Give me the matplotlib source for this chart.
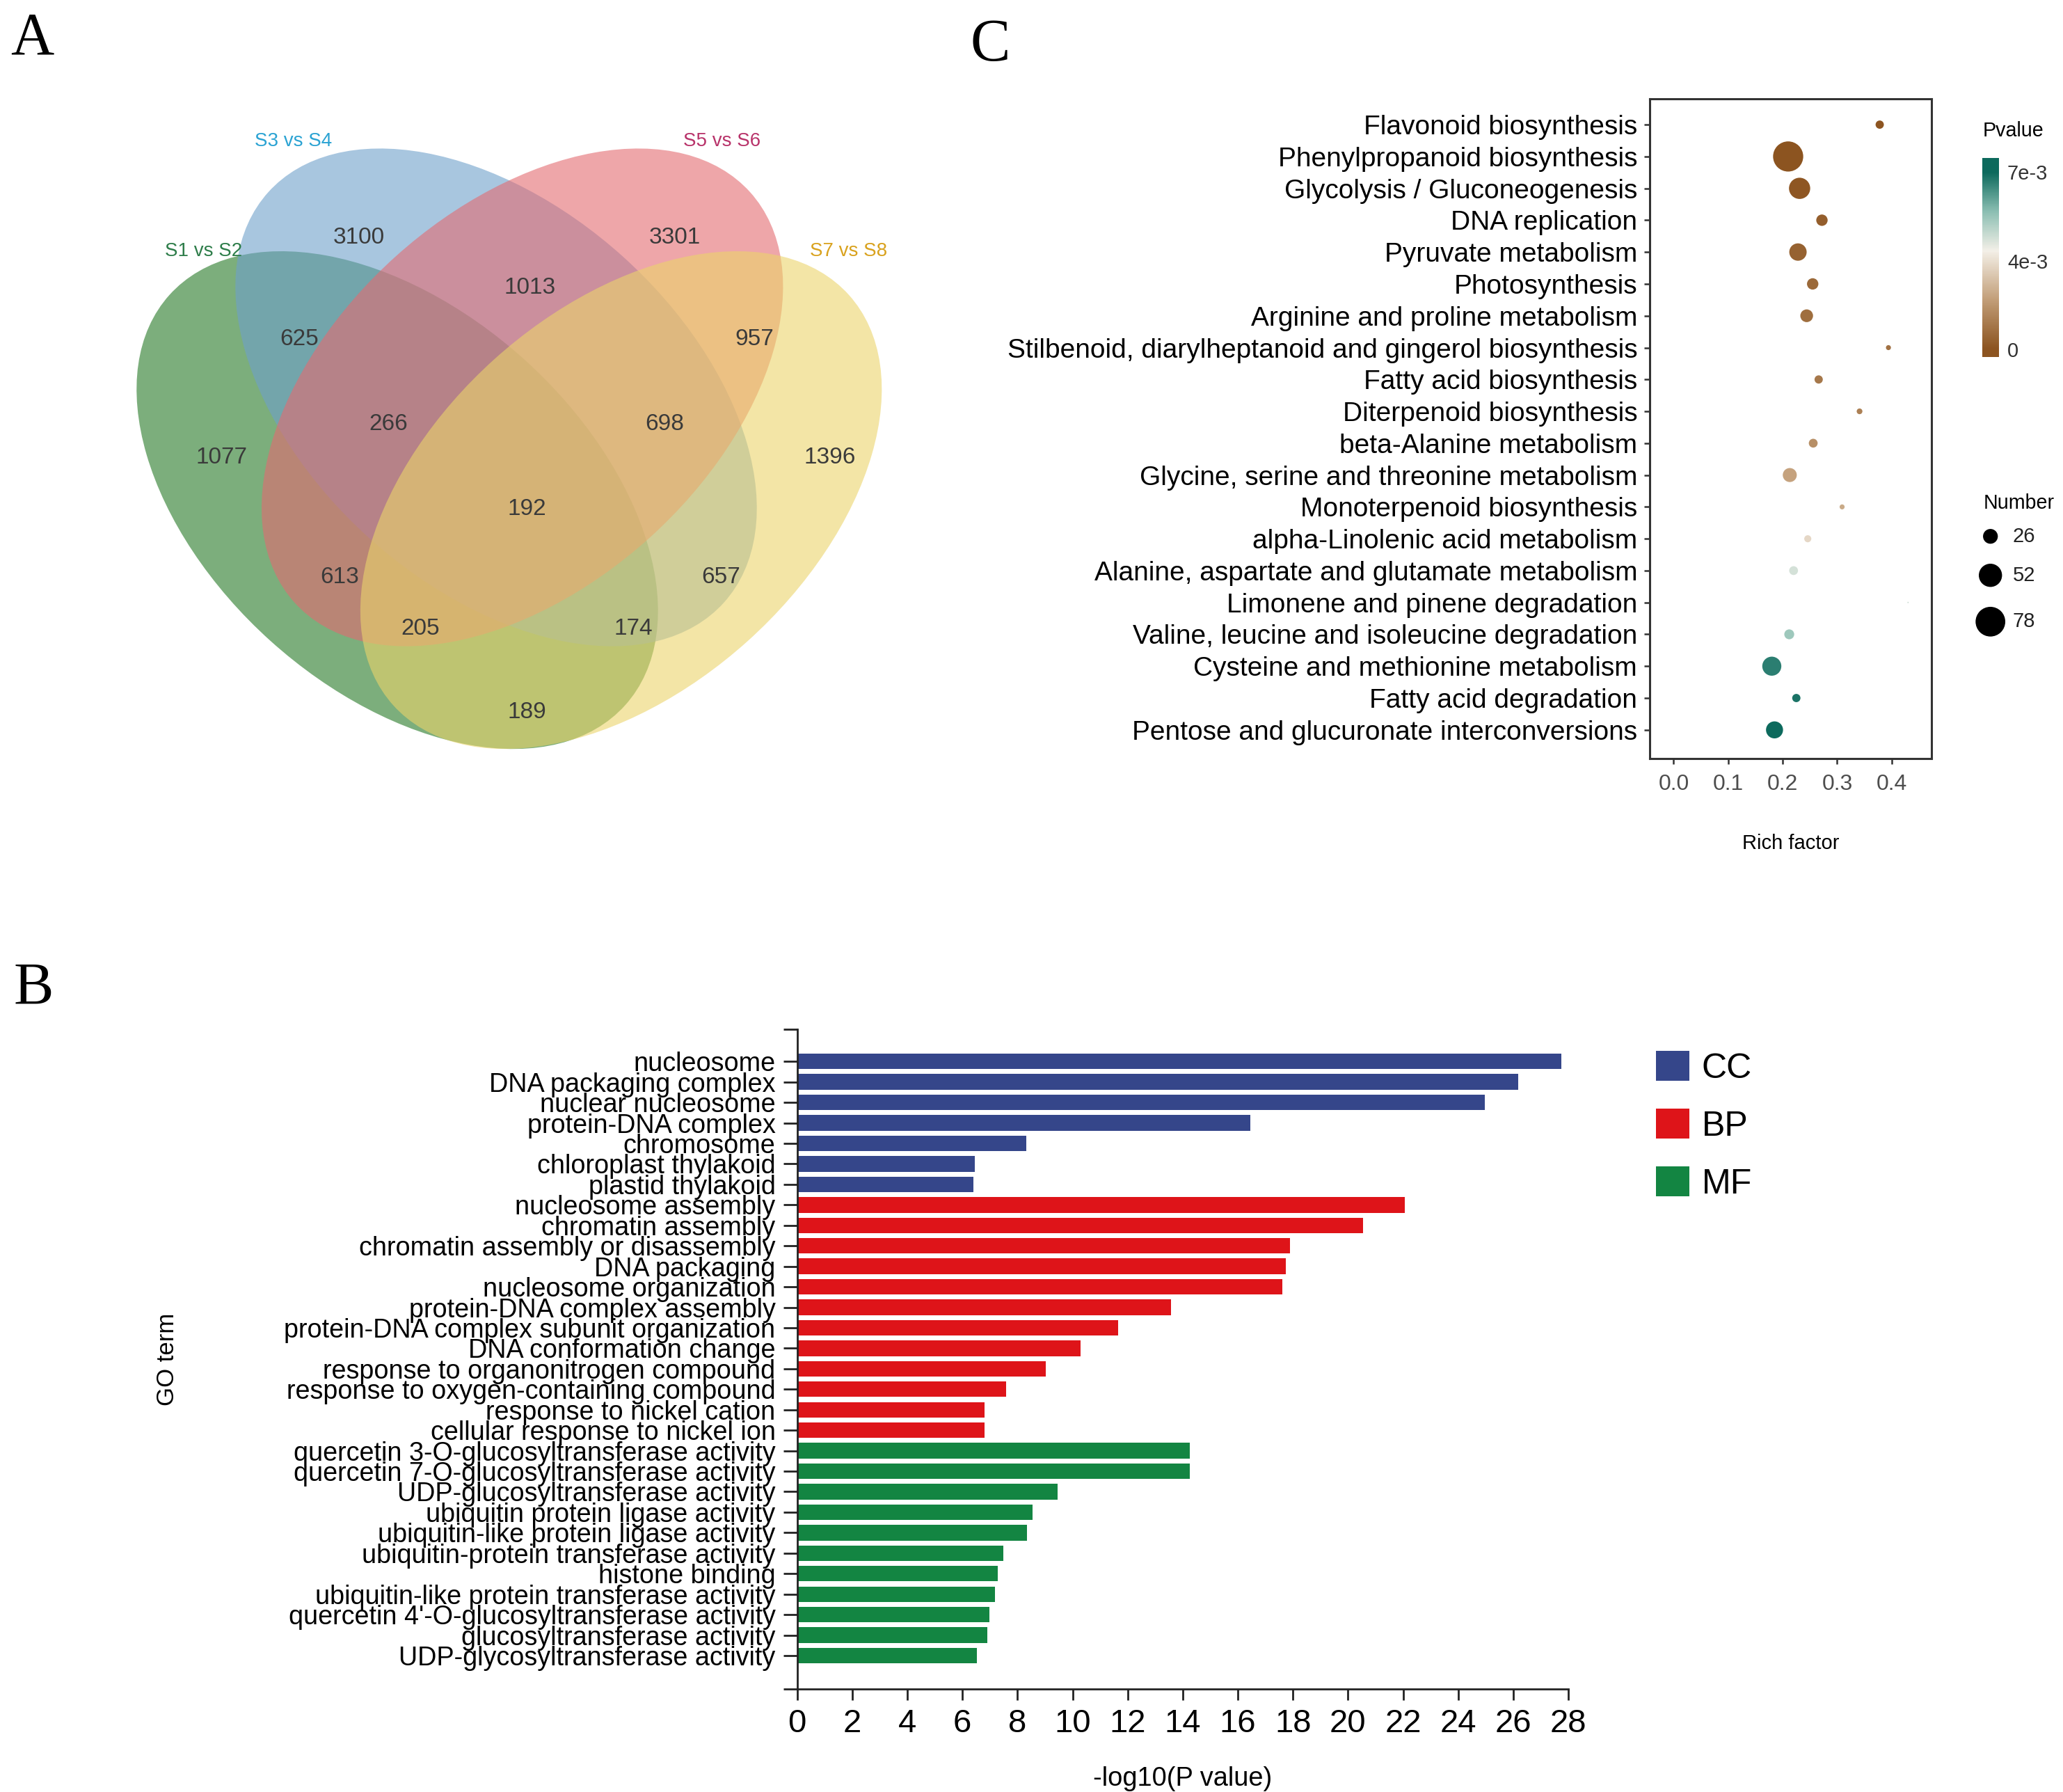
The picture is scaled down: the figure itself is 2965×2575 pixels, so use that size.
import numpy as np
import matplotlib
matplotlib.use("Agg")
import matplotlib.pyplot as plt
from matplotlib.patches import Ellipse, Patch
from matplotlib.colors import LinearSegmentedColormap, TwoSlopeNorm

# ------------------------------------------------------------------ data
venn_sets = ["S1 vs S2", "S3 vs S4", "S5 vs S6", "S7 vs S8"]
venn_regions = ["1000", "0100", "0010", "0001", "1100", "0110", "0011",
                "1110", "0111", "1111", "1010", "0101", "1011", "1101", "1001"]
venn_counts = [1077, 3100, 3301, 1396, 625, 1013, 957,
               266, 698, 192, 613, 657, 205, 174, 189]

kegg_terms = ["Flavonoid biosynthesis", "Phenylpropanoid biosynthesis",
              "Glycolysis / Gluconeogenesis", "DNA replication",
              "Pyruvate metabolism", "Photosynthesis",
              "Arginine and proline metabolism",
              "Stilbenoid, diarylheptanoid and gingerol biosynthesis",
              "Fatty acid biosynthesis", "Diterpenoid biosynthesis",
              "beta-Alanine metabolism",
              "Glycine, serine and threonine metabolism",
              "Monoterpenoid biosynthesis", "alpha-Linolenic acid metabolism",
              "Alanine, aspartate and glutamate metabolism",
              "Limonene and pinene degradation",
              "Valine, leucine and isoleucine degradation",
              "Cysteine and methionine metabolism", "Fatty acid degradation",
              "Pentose and glucuronate interconversions"]
kegg_rich = [0.378, 0.210, 0.231, 0.272, 0.228, 0.255, 0.244, 0.394, 0.266,
             0.341, 0.256, 0.213, 0.309, 0.246, 0.220, 0.430, 0.212, 0.180,
             0.225, 0.185]
kegg_number = [12, 80, 45, 18, 33, 18, 21, 7, 12, 8, 13, 24, 7, 10, 13, 3,
               15, 38, 12, 32]
kegg_pvalue = [0.00005, 0.00001, 0.0001, 0.0003, 0.0004, 0.0006, 0.0007,
               0.0008, 0.0010, 0.0012, 0.0016, 0.0021, 0.0023, 0.0034,
               0.0045, 0.0046, 0.0053, 0.0068, 0.0070, 0.0072]
pvalue_ticklabels = ["0", "4e-3", "7e-3"]
number_breaks = [26, 52, 78]
rich_ticks = [0.0, 0.1, 0.2, 0.3, 0.4]

go_terms = ["nucleosome", "DNA packaging complex", "nuclear nucleosome",
            "protein-DNA complex", "chromosome", "chloroplast thylakoid",
            "plastid thylakoid", "nucleosome assembly", "chromatin assembly",
            "chromatin assembly or disassembly", "DNA packaging",
            "nucleosome organization", "protein-DNA complex assembly",
            "protein-DNA complex subunit organization",
            "DNA conformation change", "response to organonitrogen compound",
            "response to oxygen-containing compound",
            "response to nickel cation", "cellular response to nickel ion",
            "quercetin 3-O-glucosyltransferase activity",
            "quercetin 7-O-glucosyltransferase activity",
            "UDP-glucosyltransferase activity",
            "ubiquitin protein ligase activity",
            "ubiquitin-like protein ligase activity",
            "ubiquitin-protein transferase activity", "histone binding",
            "ubiquitin-like protein transferase activity",
            "quercetin 4'-O-glucosyltransferase activity",
            "glucosyltransferase activity", "UDP-glycosyltransferase activity"]
go_values = [27.74, 26.19, 24.97, 16.45, 8.32, 6.45, 6.39,
             22.06, 20.55, 17.90, 17.74, 17.61, 13.58, 11.65, 10.29, 9.03,
             7.58, 6.81, 6.81,
             14.26, 14.26, 9.45, 8.55, 8.35, 7.48, 7.29, 7.19, 6.97, 6.90, 6.52]
go_class = ["CC"] * 7 + ["BP"] * 12 + ["MF"] * 11
go_classes = ["CC", "BP", "MF"]
go_xticks = list(range(0, 29, 2))

# ------------------------------------------------------------------ style
W, H, DPI = 2965, 2575, 200
plt.rcParams["font.family"] = ["Liberation Sans", "DejaVu Sans"]
fig = plt.figure(figsize=(W / DPI, H / DPI), dpi=DPI)

# full-figure pixel canvas (Venn + legends)
axv = fig.add_axes([0, 0, 1, 1])
axv.set_xlim(0, W)
axv.set_ylim(H, 0)
axv.axis("off")

# ------------------------------------------------------------------ A: Venn
ell_geo = [  # cx, cy, angle  (pixel layout)
    (571, 718.6, 42), (713, 571, 42), (750.7, 571, -42), (892.6, 718.6, -42)]
ell_a, ell_b = 440.6, 272.3
ell_fill = ["#257825", "#6EA0CB", "#E36B71", "#EBD46B"]
for (cx, cy, ang), col in zip(ell_geo, ell_fill):
    axv.add_patch(Ellipse((cx, cy), 2 * ell_a, 2 * ell_b, angle=ang,
                          facecolor=col, edgecolor="none", alpha=0.6))

set_lab_pos = [(293, 361), (421.7, 202.5), (1038, 202.5), (1220, 361)]
set_lab_col = ["#2E7D4A", "#2BA3D3", "#B8336A", "#D9A21E"]
for name, (x, y), c in zip(venn_sets, set_lab_pos, set_lab_col):
    axv.text(x, y, name, ha="center", va="center", fontsize=10, color=c)

region_pos = {"1000": (318, 658), "0100": (516, 341), "0010": (970, 341),
              "0001": (1193, 658), "1100": (430, 487), "0110": (762, 414),
              "0011": (1084, 487), "1110": (558, 609), "0111": (955, 609),
              "1111": (757, 731), "1010": (488, 829), "0101": (1036, 829),
              "1011": (604, 903), "1101": (910, 903), "1001": (757, 1024)}
for reg, cnt in zip(venn_regions, venn_counts):
    x, y = region_pos[reg]
    axv.text(x, y, str(cnt), ha="center", va="center", fontsize=12,
             color="#3A3A3A")

# ------------------------------------------------------------------ C: KEGG bubble
cmap = LinearSegmentedColormap.from_list(
    "pv", ["#8C5420", "#C29E78", "#F4F0E8", "#8CBFB3", "#0D6A5D"])
pmin, pmax = min(kegg_pvalue), max(kegg_pvalue)
norm = TwoSlopeNorm(vmin=pmin, vcenter=0.004, vmax=pmax)


def dot_px(n):
    return -8.0 + 5.74 * np.sqrt(np.asarray(n, dtype=float))


def dot_s(n):
    return (np.clip(dot_px(n), 1.5, None) * 72.0 / DPI) ** 2


axc = fig.add_axes([2371 / W, 1 - 1090 / H, (2776 - 2371) / W, (1090 - 142) / H])
ypos = np.arange(len(kegg_terms))[::-1] + 1
axc.scatter(kegg_rich, ypos, s=dot_s(kegg_number), c=kegg_pvalue, cmap=cmap,
            norm=norm, edgecolors="none", zorder=3)
axc.set_xlim(-0.044, 0.473)
axc.set_ylim(0.1, len(kegg_terms) + 0.81)
axc.set_yticks(ypos)
axc.set_yticklabels(kegg_terms, fontsize=14, color="black")
axc.set_xticks(rich_ticks)
axc.set_xticklabels([f"{t:.1f}" for t in rich_ticks], fontsize=11.5,
                    color="#4D4D4D")
axc.tick_params(axis="both", direction="out", length=2.9, width=0.9,
                color="#333333")
axc.tick_params(axis="y", pad=3.5)
axc.tick_params(axis="x", pad=5)
for sp in axc.spines.values():
    sp.set_linewidth(1.1)
    sp.set_color("#333333")
axc.set_xlabel("Rich factor", fontsize=10.5, labelpad=20)

# colour bar (Pvalue)
axcb = fig.add_axes([2849.3 / W, 1 - 513 / H, 23.4 / W, (513 - 227) / H])
ppx = 255.0 / (pmax - pmin)
lo, hi = pmin - 11 / ppx, pmax + 20 / ppx
grad = np.linspace(lo, hi, 256).reshape(-1, 1)
axcb.imshow(grad, aspect="auto", origin="lower", cmap=cmap, norm=norm,
            extent=(0, 1, lo, hi))
axcb.set_xlim(0, 1)
axcb.set_ylim(lo, hi)
axcb.set_xticks([])
axcb.yaxis.tick_right()
axcb.set_yticks([pmin, (pmin + pmax) / 2, pmax])
axcb.set_yticklabels(pvalue_ticklabels, fontsize=10.5, color="#333333")
axcb.tick_params(axis="y", length=0, pad=4.4)
for sp in axcb.spines.values():
    sp.set_visible(False)
axv.text(2850, 188, "Pvalue", ha="left", va="center", fontsize=10.3)

# size legend (Number)
axv.text(2850.7, 723, "Number", ha="left", va="center", fontsize=10.3)
leg_y = [770.7, 826.7, 893.3]
axv.scatter([2860.7] * len(number_breaks), leg_y, s=dot_s(number_breaks),
            color="black", edgecolors="none")
for yy, nb in zip(leg_y, number_breaks):
    axv.text(2892.7, yy, str(nb), ha="left", va="center", fontsize=10.5,
             color="#222222")

# ------------------------------------------------------------------ B: GO bars
class_col = {"CC": "#35468A", "BP": "#DE1419", "MF": "#138542"}
axb = fig.add_axes([1145.7 / W, 1 - 2427.3 / H, (2254 - 1145.7) / W,
                    (2427.3 - 1479.3) / H])
yb = np.arange(len(go_terms))
axb.barh(yb, go_values, height=0.76, color=[class_col[c] for c in go_class],
         zorder=2)
top_lim, bot_lim = -1.56, len(go_terms) - 1 + 1.64
axb.set_ylim(bot_lim, top_lim)
axb.set_xlim(0, 28)
axb.set_yticks(list(yb) + [top_lim, bot_lim])
axb.set_yticklabels(go_terms + ["", ""], fontsize=13.6, color="black")
axb.set_xticks(go_xticks)
axb.set_xticklabels([str(t) for t in go_xticks], fontsize=17)
axb.tick_params(axis="y", direction="out", length=7.2, width=1.0,
                color="#222222", pad=4)
axb.tick_params(axis="x", direction="out", length=5.8, width=1.0,
                color="#222222", pad=4.3)
for s in ("top", "right"):
    axb.spines[s].set_visible(False)
for s in ("left", "bottom"):
    axb.spines[s].set_linewidth(1.0)
    axb.spines[s].set_color("#222222")
axb.set_xlabel("-log10(P value)", fontsize=13.7, labelpad=14)
axb.set_ylabel("GO term", fontsize=12.5, va="center")
axb.yaxis.set_label_coords((240 - 1145.7) / (2254 - 1145.7), 0.5)

handles = [Patch(facecolor=class_col[c], edgecolor="none") for c in go_classes]
axb.legend(handles, go_classes, loc="upper left",
           bbox_to_anchor=(2380 / W, 1 - 1510 / H),
           bbox_transform=fig.transFigure, frameon=False, fontsize=18,
           handlelength=0.96, handleheight=0.96, labelspacing=0.68,
           handletextpad=0.35, borderpad=0, borderaxespad=0)

# ------------------------------------------------------------------ panel letters
for lab, x, y in [("A", 15, 78), ("C", 1394, 87), ("B", 19, 1443)]:
    fig.text(x / W, 1 - y / H, lab, ha="left", va="baseline", fontsize=31,
             family=["Liberation Serif", "DejaVu Serif"])

fig.savefig("out.png", dpi=DPI)
